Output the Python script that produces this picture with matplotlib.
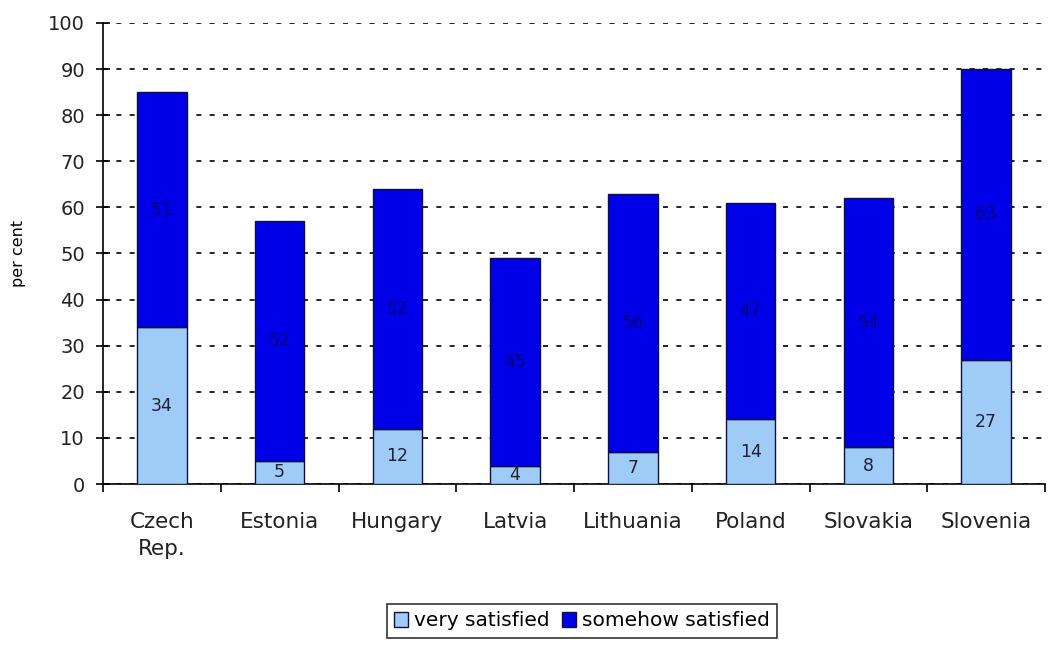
import matplotlib.pyplot as plt
import numpy as np

countries = ["Czech\nRep.", "Estonia", "Hungary", "Latvia", "Lithuania", "Poland", "Slovakia", "Slovenia"]
very = [34, 5, 12, 4, 7, 14, 8, 27]
somehow = [51, 52, 52, 45, 56, 47, 54, 63]
yticks = list(range(0, 101, 10))

fig = plt.figure(figsize=(10.51, 6.47), dpi=100)
ax = fig.add_axes([103/1051, 1 - 484/647, 942/1051, (484-23)/647])

x = np.arange(len(countries))
w = 0.42
light = "#9fcbf7"
dark = "#0000e8"
b1 = ax.bar(x, very, w, color=light, edgecolor="#101040", linewidth=1.0, label="very satisfied", zorder=3)
b2 = ax.bar(x, somehow, w, bottom=very, color=dark, edgecolor="#101040", linewidth=1.0, label="somehow satisfied", zorder=3)

for xi, v, s in zip(x, very, somehow):
    ax.text(xi, v / 2, str(v), ha="center", va="center", fontsize=12.5, color="#222233", zorder=4)
    ax.text(xi, v + s / 2, str(s), ha="center", va="center", fontsize=12.5, color="#00007a", zorder=4)

ax.set_xlim(-0.5, len(countries) - 0.5)
ax.set_ylim(0, 100)
ax.set_yticks(yticks)
ax.set_yticklabels([str(t) for t in yticks], fontsize=14, color="#222222")
ax.yaxis.grid(True, linestyle=(0, (3, 5)), color="black", linewidth=1.2, zorder=0)
ax.set_xticks(x)
ax.set_xticklabels(countries, fontsize=15.5, color="#222222", linespacing=1.45)
ax.tick_params(axis="x", length=0, pad=20)
ax.set_xticks(np.arange(-0.5, len(countries), 1), minor=True)
ax.tick_params(axis="x", which="minor", length=6, direction="out", width=1.2)
ax.tick_params(axis="y", direction="inout", length=10, pad=8, width=1.2)
for sp in ["top", "right"]:
    ax.spines[sp].set_visible(False)
for sp in ["left", "bottom"]:
    ax.spines[sp].set_linewidth(1.2)
ax.set_ylabel("per cent", fontsize=11.5, labelpad=16)

leg = fig.legend(handles=[b1, b2], loc="center", bbox_to_anchor=(582/1051, 1 - 621/647), ncol=2,
                 fontsize=14.5, frameon=True, fancybox=False, edgecolor="black", handlelength=0.7,
                 handleheight=0.7, handletextpad=0.3, columnspacing=0.6, borderpad=0.35)
leg.get_frame().set_linewidth(1.2)

fig.savefig("out.png", dpi=100)
